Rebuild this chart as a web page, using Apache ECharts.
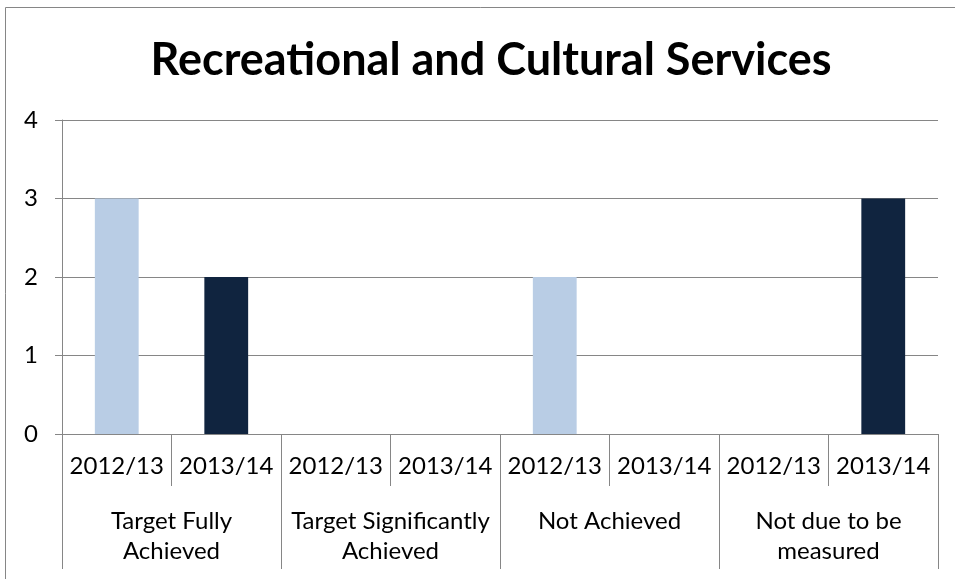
<!DOCTYPE html>
<html><head><meta charset="utf-8">
<script src="https://cdn.jsdelivr.net/npm/echarts@6/dist/echarts.min.js"></script>
<style>html,body{margin:0;padding:0;background:#fff}#c{width:955px;height:579px}</style>
</head><body><div id="c"></div>
<script>
const title = 'Recreational and Cultural Services';
const groups = ['Target Fully\nAchieved', 'Target Significantly\nAchieved', 'Not Achieved', 'Not due to be\nmeasured'];
const years = ['2012/13', '2013/14'];
const values2012 = [3, 0, 2, 0];
const values2013 = [2, 0, 0, 3];
const yTicks = [0, 1, 2, 3, 4];

const cats = [];
const s1 = [], s2 = [];
groups.forEach((g, i) => {
  cats.push(years[0]); cats.push(years[1]);
  s1.push(values2012[i]); s1.push('-');
  s2.push('-'); s2.push(values2013[i]);
});
const FONT = 'Lato';
const GRAY = '#868686';
const chart = echarts.init(document.getElementById('c'));
chart.setOption({
  animation: false,
  title: { text: title, left: 486, top: 33, textAlign: 'center',
    textStyle: { fontFamily: FONT, fontWeight: 'bold', fontSize: 45, color: '#000' } },
  grid: { left: 62, right: 17, top: 120, bottom: 145, containLabel: false },
  graphic: [{ type: 'polyline', shape: { points: [[5.5, 600], [5.5, 7.5], [960, 7.5]] },
    style: { stroke: GRAY, lineWidth: 1, fill: null } }],
  xAxis: [{
    type: 'category', data: cats, position: 'bottom', boundaryGap: true,
    axisLine: { show: true, lineStyle: { color: GRAY, width: 1 } },
    axisTick: { show: true, alignWithLabel: false, interval: 0, length: 52, lineStyle: { color: GRAY } },
    axisLabel: { margin: 20, fontFamily: FONT, fontSize: 24, color: '#000', interval: 0 }
  }, {
    type: 'category', data: groups, position: 'bottom', boundaryGap: true,
    axisLine: { show: false },
    axisTick: { show: true, alignWithLabel: false, interval: 0, length: 135, lineStyle: { color: GRAY } },
    axisLabel: { margin: 72, fontFamily: FONT, fontSize: 24, color: '#000', lineHeight: 30, interval: 0 }
  }],
  yAxis: {
    type: 'value', min: yTicks[0], max: yTicks[yTicks.length - 1], interval: 1,
    axisLine: { show: true, lineStyle: { color: GRAY } },
    axisTick: { show: true, length: 7, lineStyle: { color: GRAY } },
    axisLabel: { margin: 24, fontFamily: FONT, fontSize: 24, color: '#000' },
    splitLine: { lineStyle: { color: GRAY, width: 1 } }
  },
  series: [
    { name: years[0], type: 'bar', data: s1, barWidth: '40%', barGap: '-100%', xAxisIndex: 0,
      itemStyle: { color: '#B9CDE5' } },
    { name: years[1], type: 'bar', data: s2, barWidth: '40%', barGap: '-100%', xAxisIndex: 0,
      itemStyle: { color: '#10243F' } }
  ]
});
</script></body></html>
